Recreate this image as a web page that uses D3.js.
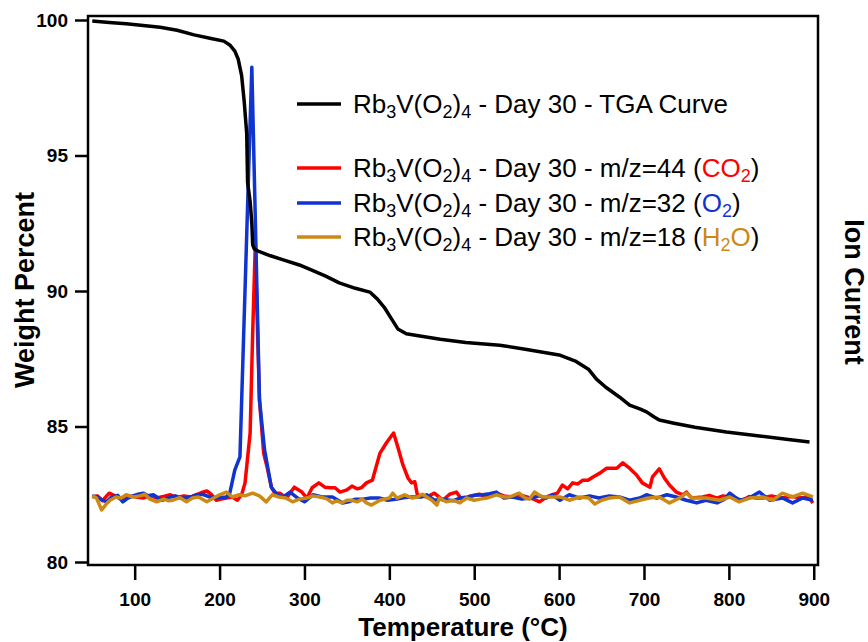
<!DOCTYPE html>
<html>
<head>
<meta charset="utf-8">
<script src="https://cdn.jsdelivr.net/npm/d3@7"></script>
<style>
  html, body { margin: 0; padding: 0; background: #fff; }
  text { font-family: "Liberation Sans", Arial, sans-serif; }
</style>
</head>
<body>
<svg id="chart" width="868" height="642"></svg>
<script>
// ---------------- DATA ----------------
const xTicks = [100, 200, 300, 400, 500, 600, 700, 800, 900];
const yTicks = [80, 85, 90, 95, 100];

// TGA curve: [temperature °C, weight %]
const tgaData = [
  [50,99.96],[70,99.91],[90,99.86],[110,99.80],[130,99.73],[150,99.62],[170,99.45],[190,99.32],
  [205,99.22],[212,99.08],[218,98.85],[222,98.55],[226,97.95],[229,97.0],[232,95.8],[233,94.0],
  [236,93.3],[238,92.5],[239,91.7],[241,91.55],[247,91.45],[260,91.3],[275,91.15],[294,90.96],
  [310,90.75],[325,90.55],[341,90.3],[360,90.1],[377,89.96],[386,89.7],[394,89.4],[402,89.0],
  [410,88.6],[420,88.42],[436,88.34],[460,88.22],[490,88.1],[530,88.0],[560,87.85],[600,87.64],
  [620,87.4],[635,87.1],[644,86.75],[655,86.45],[671,86.09],[683,85.79],[695,85.65],[703,85.54],
  [712,85.35],[718,85.24],[734,85.13],[760,84.97],[797,84.80],[836,84.65],[870,84.52],[895,84.43]
];

// Ion current (arbitrary units): m/z = 44 (CO2)
const co2Data = [
  [50,12.0],[56,12.2],[62,11.3],[70,12.7],[78,12.1],[86,11.4],[94,12.2],[102,12.0],[110,11.8],
  [118,12.3],[126,11.8],[134,12.1],[142,12.4],[150,11.9],[158,12.2],[166,12.0],[174,12.5],
  [180,12.9],[185,13.1],[190,12.5],[196,11.4],[202,11.6],[208,11.8],[215,12.0],[221,11.4],
  [226,12.4],[230,14.6],[236,23.8],[239,42.3],[242,58.0],[247,29.9],[252,20.0],[256,17.5],
  [261,13.8],[265,12.7],[271,12.7],[279,11.8],[288,13.8],[297,12.9],[303,11.8],[309,13.7],
  [317,14.6],[324,13.8],[330,13.7],[336,13.7],[342,12.9],[350,13.3],[356,14.0],[362,13.5],
  [367,13.7],[373,14.6],[380,15.1],[389,20.1],[397,22.1],[405,23.8],[410,21.2],[416,17.9],
  [422,15.5],[426,14.6],[430,14.8],[433,12.4],[444,12.0],[453,12.7],[463,11.4],[471,12.5],
  [479,12.9],[486,11.4],[496,12.2],[506,12.5],[516,12.0],[526,12.7],[535,12.2],[545,12.0],
  [553,12.4],[562,12.0],[570,11.6],[577,11.1],[585,12.0],[592,12.4],[598,12.7],[604,14.2],
  [610,13.5],[616,14.6],[622,14.4],[628,15.1],[634,15.1],[640,15.7],[648,16.4],[656,17.3],
  [668,17.3],[675,18.3],[683,17.3],[691,16.1],[698,14.6],[707,13.8],[710,15.7],[718,17.2],
  [724,15.5],[730,14.2],[738,12.9],[746,12.4],[750,12.9],[756,11.8],[769,12.0],[777,12.3],
  [786,11.8],[793,12.2],[801,12.0],[808,11.7],[816,11.4],[824,12.1],[832,11.8],[840,11.8],
  [850,12.2],[862,11.8],[874,12.1],[887,11.8],[893,12.2],[899,10.9]
];

// m/z = 32 (O2)
const o2Data = [
  [50,12.2],[56,12.0],[62,11.4],[67,11.1],[72,11.9],[80,12.3],[86,11.1],[92,11.8],[98,12.2],
  [104,12.5],[110,12.7],[116,12.2],[122,12.4],[128,11.8],[133,11.4],[140,11.9],[148,12.2],
  [154,11.8],[161,11.8],[168,12.1],[174,12.4],[180,12.5],[188,12.0],[196,11.8],[202,11.9],
  [208,12.0],[212,12.7],[218,17.0],[224,19.4],[238,91.3],[247,29.9],[253,20.7],[261,13.8],
  [268,12.4],[275,12.0],[283,12.9],[292,11.8],[300,11.1],[310,12.4],[321,12.0],[333,12.0],
  [345,10.9],[352,11.1],[360,11.6],[369,11.6],[378,11.8],[388,11.8],[398,11.4],[409,11.6],
  [418,11.9],[427,12.0],[438,12.0],[444,12.4],[453,11.4],[463,11.6],[475,11.3],[483,11.8],
  [492,12.0],[501,12.3],[510,12.4],[518,12.6],[526,12.9],[535,11.8],[545,12.0],[556,11.6],
  [566,11.8],[577,12.2],[585,11.8],[592,12.4],[601,11.4],[612,12.4],[624,11.8],[636,12.2],
  [647,11.8],[659,12.2],[671,12.0],[683,11.4],[695,11.8],[703,12.4],[715,11.8],[727,12.4],
  [738,12.0],[750,11.4],[762,10.9],[773,11.4],[786,10.9],[795,11.6],[801,12.7],[807,12.0],
  [813,11.4],[824,11.8],[836,12.9],[848,11.4],[863,11.8],[875,10.9],[887,11.8],[899,11.4]
];

// m/z = 18 (H2O)
const h2oData = [
  [50,12.2],[55,11.8],[61,9.6],[66,10.6],[71,11.4],[78,12.0],[84,11.8],[90,12.4],[98,12.0],
  [106,12.2],[112,12.5],[118,11.6],[126,11.1],[134,11.6],[140,11.3],[145,11.4],[153,11.9],
  [161,11.1],[168,11.8],[175,12.0],[185,11.1],[192,11.7],[200,12.4],[208,12.9],[215,12.0],
  [223,12.4],[230,12.2],[239,12.7],[247,12.2],[255,11.1],[262,12.4],[270,12.0],[278,11.8],
  [286,11.1],[294,11.6],[303,11.8],[310,12.2],[318,12.0],[326,11.7],[333,10.9],[338,11.3],
  [344,10.9],[350,11.4],[356,11.4],[362,11.1],[368,11.6],[373,10.9],[379,10.5],[389,11.4],
  [400,11.8],[404,12.7],[409,11.8],[418,12.4],[427,11.8],[433,12.0],[439,12.5],[444,12.0],
  [450,11.4],[456,10.5],[459,11.8],[467,11.1],[475,11.4],[483,10.9],[491,11.8],[500,11.4],
  [507,11.6],[515,11.8],[526,12.4],[535,12.0],[542,12.0],[553,12.7],[560,11.8],[565,11.6],
  [571,12.9],[576,12.4],[581,12.0],[590,12.0],[601,12.0],[612,11.4],[624,12.0],[635,11.8],
  [642,10.7],[650,11.4],[659,11.8],[671,12.0],[683,10.9],[695,11.4],[706,11.8],[718,12.0],
  [730,10.9],[742,11.8],[750,12.7],[757,11.8],[773,11.8],[789,11.4],[801,12.0],[812,11.1],
  [824,11.8],[840,12.0],[852,11.4],[863,12.7],[875,12.0],[887,12.7],[899,12.0]
];

const colors = { tga: "#000000", co2: "#ff0000", o2: "#1034d0", h2o: "#cc8a14" };

// ---------------- CHART ----------------
const svg = d3.select("#chart");
const frame = { left: 88, right: 818, top: 16, bottom: 565 };

const x = d3.scaleLinear().domain([45, 905]).range([frame.left, frame.right]);
const y = d3.scaleLinear().domain([80, 100]).range([562, 20]);
const yIon = d3.scaleLinear().domain([0, 100]).range([562, 20]);

const line = (ys) => d3.line().x(d => x(d[0])).y(d => ys(d[1]));

// ion current traces
[[co2Data, colors.co2], [o2Data, colors.o2], [h2oData, colors.h2o]].forEach(([data, c]) => {
  svg.append("path").datum(data)
    .attr("d", line(yIon))
    .attr("fill", "none").attr("stroke", c).attr("stroke-width", 3.5)
    .attr("stroke-linejoin", "round");
});

// TGA curve
svg.append("path").datum(tgaData)
  .attr("d", line(y))
  .attr("fill", "none").attr("stroke", colors.tga).attr("stroke-width", 3.5)
  .attr("stroke-linejoin", "round");

// frame
svg.append("rect")
  .attr("x", frame.left).attr("y", frame.top)
  .attr("width", frame.right - frame.left).attr("height", frame.bottom - frame.top)
  .attr("fill", "none").attr("stroke", "#000").attr("stroke-width", 2.5);

// axes
const xAxis = svg.append("g")
  .attr("transform", `translate(0,${frame.bottom})`)
  .call(d3.axisBottom(x).tickValues(xTicks).tickSize(15).tickPadding(13).tickFormat(d3.format("d")));
const yAxis = svg.append("g")
  .attr("transform", `translate(${frame.left},0)`)
  .call(d3.axisLeft(y).tickValues(yTicks).tickSize(13).tickPadding(7).tickFormat(d3.format("d")));

[xAxis, yAxis].forEach(g => {
  g.select(".domain").remove();
  g.selectAll(".tick line").attr("stroke", "#000").attr("stroke-width", 2.5);
  g.selectAll(".tick text")
    .attr("fill", "#000")
    .style("font-family", '"Liberation Sans", Arial, sans-serif')
    .style("font-size", "19px").style("font-weight", "bold");
});

// axis titles
svg.append("text")
  .attr("x", 463).attr("y", 636)
  .attr("text-anchor", "middle")
  .style("font-size", "26px").style("font-weight", "bold")
  .text("Temperature (°C)");

svg.append("text")
  .attr("transform", "translate(34,290) rotate(-90)")
  .attr("text-anchor", "middle")
  .style("font-size", "27px").style("font-weight", "bold")
  .text("Weight Percent");

svg.append("text")
  .attr("transform", "translate(845,292) rotate(90)")
  .attr("text-anchor", "middle")
  .style("font-size", "27px").style("font-weight", "bold")
  .text("Ion Current");

// legend
const legendItems = [
  { color: colors.tga, y: 104, prefix: " - Day 30 - " },
  { color: colors.co2, y: 168, prefix: " - Day 30 - m/z=44 (", gas: [["CO", false], ["2", true]], gasColor: colors.co2 },
  { color: colors.o2,  y: 203, prefix: " - Day 30 - m/z=32 (", gas: [["O", false], ["2", true]], gasColor: colors.o2 },
  { color: colors.h2o, y: 237, prefix: " - Day 30 - m/z=18 (", gas: [["H", false], ["2", true], ["O", false]], gasColor: colors.h2o }
];

const fs = 26, subFs = 18, subShift = 5;
legendItems.forEach((it, i) => {
  svg.append("line")
    .attr("x1", 297).attr("x2", 341).attr("y1", it.y).attr("y2", it.y)
    .attr("stroke", it.color).attr("stroke-width", 3.5);
  const t = svg.append("text")
    .attr("x", 353).attr("y", it.y + 9)
    .style("font-size", fs + "px").attr("fill", "#000");
  const parts = [["Rb", false], ["3", true], ["V(O", false], ["2", true], [")", false], ["4", true]];
  let shifted = false;
  const add = (str, sub, color) => {
    const ts = t.append("tspan").text(str);
    if (color) ts.attr("fill", color);
    if (sub && !shifted) { ts.attr("dy", subShift); shifted = true; }
    else if (!sub && shifted) { ts.attr("dy", -subShift); shifted = false; }
    if (sub) ts.style("font-size", subFs + "px");
  };
  parts.forEach(p => add(p[0], p[1], null));
  if (i === 0) {
    add(it.prefix + "TGA Curve", false, null);
  } else {
    add(it.prefix, false, null);
    it.gas.forEach(g => add(g[0], g[1], it.gasColor));
    add(")", false, null);
  }
});
</script>
</body>
</html>
